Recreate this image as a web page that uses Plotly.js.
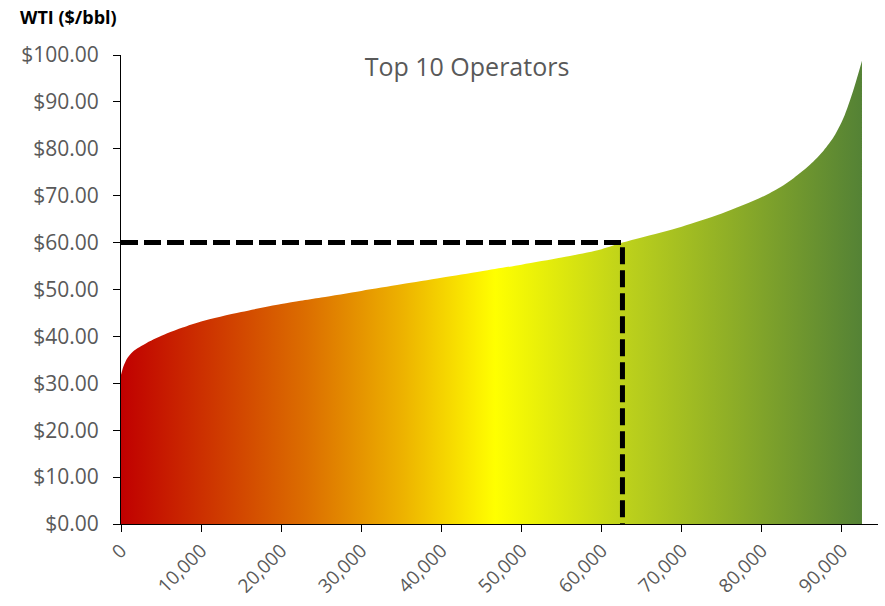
<!DOCTYPE html>
<html>
<head>
<meta charset="utf-8">
<script src="https://cdn.plot.ly/plotly-3.0.1.min.js"></script>
<style>html,body{margin:0;padding:0;background:#fff;}#chart{width:885px;height:606px;}</style>
</head>
<body>
<div id="chart"></div>
<script>
// Cumulative volume (x) vs breakeven WTI price (y)
const volume = [0, 300, 800, 1500, 3200, 5700, 7700, 10000, 15000, 20000, 22400, 25000, 30000, 35000, 40000, 45000, 50000, 55000, 60000, 62600, 65000, 70000, 75000, 80000, 82300, 84000, 86000, 87700, 89000, 90200, 91400, 92000, 92500];
const price  = [31.8, 33.6, 35.4, 36.8, 38.6, 40.6, 41.9, 43.2, 45.2, 46.9, 47.6, 48.3, 49.7, 51.1, 52.5, 53.9, 55.3, 56.8, 58.6, 60.0, 61.1, 63.4, 66.2, 69.7, 71.8, 73.8, 76.6, 79.6, 82.6, 86.6, 92.4, 95.8, 98.8];
const cutoffPrice = 60;
const cutoffVolume = 62600;
const xTicks = [0, 10000, 20000, 30000, 40000, 50000, 60000, 70000, 80000, 90000];
const yTicks = [0, 10, 20, 30, 40, 50, 60, 70, 80, 90, 100];
const yTickText = yTicks.map(v => '$' + v.toFixed(2));
const chartTitle = 'Top 10 Operators';
const yLabel = 'WTI ($/bbl)';

const traces = [
  {
    x: volume, y: price, type: 'scatter', mode: 'lines',
    line: {width: 0, color: 'rgba(0,0,0,0)', shape: 'spline', smoothing: 0.8},
    fill: 'tozeroy',
    fillgradient: {
      type: 'horizontal',
      colorscale: [
        [0, '#C00000'],
        [0.25, '#DC6E00'],
        [0.38, '#EDB200'],
        [0.505, '#FFFF00'],
        [0.69, '#BACF1C'],
        [1, '#548235']
      ]
    },
    hoverinfo: 'skip', showlegend: false
  },
  {
    x: [0, cutoffVolume, cutoffVolume], y: [cutoffPrice, cutoffPrice, 0],
    type: 'scatter', mode: 'lines',
    line: {color: '#000000', width: 5, dash: '17px,6px'},
    showlegend: false, hoverinfo: 'skip'
  }
];

const xTickFont = {family: 'Open Sans, sans-serif', size: 19, color: '#595959'};
const yTickFont = {family: 'Open Sans, sans-serif', size: 21, color: '#595959'};

const layout = {
  width: 885, height: 606,
  margin: {l: 121, r: 7, t: 55, b: 82, pad: 0},
  paper_bgcolor: '#ffffff', plot_bgcolor: '#ffffff',
  showlegend: false,
  title: {
    text: chartTitle,
    font: {family: 'Open Sans, sans-serif', size: 25, color: '#595959'},
    xref: 'container', yref: 'container',
    x: 467 / 885, y: 1 - 67 / 606, xanchor: 'center', yanchor: 'middle'
  },
  xaxis: {
    range: [0, 94500], tickmode: 'array', tickvals: xTicks, tickformat: ',d',
    tickangle: -45, tickfont: xTickFont,
    showgrid: false, zeroline: false,
    showline: true, linecolor: '#000000', linewidth: 1,
    ticks: 'outside', ticklen: 7, tickcolor: '#000000'
  },
  yaxis: {
    range: [0, 100], tickmode: 'array', tickvals: yTicks, ticktext: yTickText,
    tickfont: yTickFont,
    showgrid: false, zeroline: false,
    showline: true, linecolor: '#000000', linewidth: 1,
    ticks: 'outside', ticklen: 7, tickcolor: '#000000',
    ticklabelstandoff: 10
  },
  annotations: [{
    text: '<b>' + yLabel + '</b>',
    xref: 'paper', yref: 'paper',
    x: (18 - 121) / 757, y: (524 - 17) / 469,
    xanchor: 'left', yanchor: 'middle', showarrow: false,
    font: {family: 'Open Sans, sans-serif', size: 18, color: '#000000'}
  }]
};

Plotly.newPlot('chart', traces, layout, {displayModeBar: false, staticPlot: true});
</script>
</body>
</html>
